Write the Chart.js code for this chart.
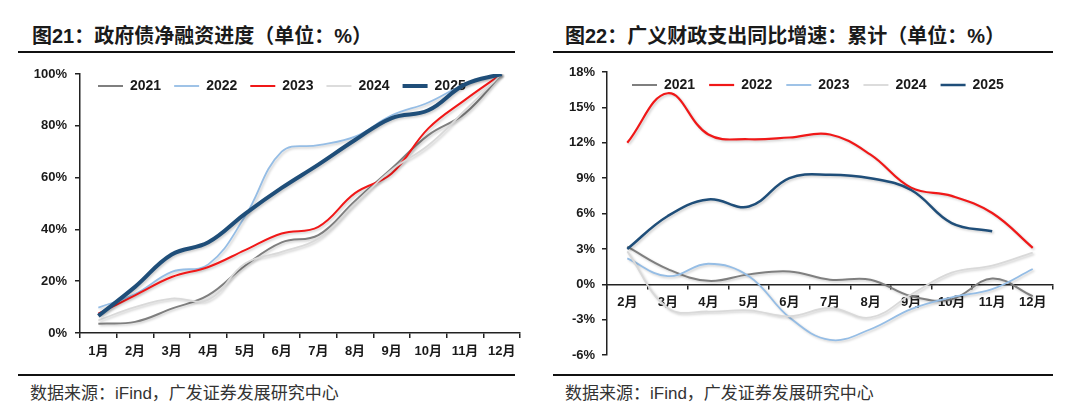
<!DOCTYPE html>
<html lang="zh">
<head>
	<meta charset="UTF-8">
	<title>政府债净融资进度 / 广义财政支出同比增速</title>
	<script src="https://cdn.jsdelivr.net/npm/chart.js"></script>
	<style>
		body {
			margin: 0;
			padding: 0;
			background-color: #fff;
			font-family: "Liberation Sans", "Noto Sans CJK SC", sans-serif;
		}
		.page {
			position: relative;
			width: 1080px;
			height: 416px;
			overflow: hidden;
		}
		.title {
			position: absolute;
			font-size: 20px;
			line-height: 20px;
			font-weight: bold;
			color: #1a1a1a;
			white-space: nowrap;
		}
		.rule {
			position: absolute;
			height: 2px;
			background-color: #111;
		}
		.source {
			position: absolute;
			font-size: 17px;
			line-height: 17px;
			color: #333;
			white-space: nowrap;
		}
		.chart-box {
			position: absolute;
		}
	</style>
</head>
<body>
<div class="page">
	<!-- left panel -->
	<div class="title" style="left:32px; top:26px;">图21：政府债净融资进度（单位：%）</div>
	<div class="rule" style="left:18px; top:51px; width:497px;"></div>
	<div class="chart-box" style="left:18px; top:56px; width:512px; height:316px;">
		<canvas id="debtChart"></canvas>
	</div>
	<div class="rule" style="left:18px; top:374px; width:497px;"></div>
	<div class="source" style="left:30px; top:385px;">数据来源：iFind，广发证券发展研究中心</div>

	<!-- right panel -->
	<div class="title" style="left:565px; top:26px;">图22：广义财政支出同比增速：累计（单位：%）</div>
	<div class="rule" style="left:553px; top:51px; width:500px;"></div>
	<div class="chart-box" style="left:548px; top:54px; width:515px; height:316px;">
		<canvas id="spendChart"></canvas>
	</div>
	<div class="rule" style="left:553px; top:374px; width:500px;"></div>
	<div class="source" style="left:565px; top:385px;">数据来源：iFind，广发证券发展研究中心</div>
</div>

<script>
	// Figure 21: government bond net financing progress (%)
	const debtMonths = ['1月', '2月', '3月', '4月', '5月', '6月', '7月', '8月', '9月', '10月', '11月', '12月'];
	const debt2021 = [3.6, 4.3, 9.4, 14.6, 26, 35, 37.8, 51, 63.5, 76.4, 84.8, 100];
	const debt2022 = [9.8, 15, 23.6, 26.5, 45, 70, 72.5, 75.8, 84, 89, 96, 100];
	const debt2023 = [7.5, 14.5, 21.6, 25.5, 32, 38.4, 41, 54, 61.6, 79, 90, 100];
	const debt2024 = [4.9, 10, 13.3, 12.9, 26.8, 31.3, 36.5, 50, 63, 72.5, 86, 100];
	const debt2025 = [6.6, 17.8, 30.3, 35, 46, 56, 65, 74.5, 83, 86, 96, 100];

	// Figure 22: broad fiscal expenditure YoY, cumulative (%)
	const spendMonths = ['2月', '3月', '4月', '5月', '6月', '7月', '8月', '9月', '10月', '11月', '12月'];
	const spend2021 = [3.2, 1.3, 0.3, 0.85, 1.1, 0.4, 0.4, -1.0, -1.25, 0.5, -1.0];
	const spend2022 = [12, 16.2, 12.7, 12.3, 12.45, 12.7, 11, 8.2, 7.5, 6.05, 3.1];
	const spend2023 = [2.2, 0.7, 1.75, 0.7, -2.8, -4.7, -3.8, -2.1, -1.1, -0.4, 1.3];
	const spend2024 = [2.8, -2.0, -2.3, -2.2, -2.7, -2.0, -2.8, -0.85, 1.0, 1.6, 2.7];
	const spend2025 = [3.0, 5.8, 7.2, 6.6, 9.0, 9.3, 9.0, 8.0, 5.2, 4.5, null];

	const yearLabels = ['2021', '2022', '2023', '2024', '2025'];

	const GRAY = '#7f7f7f';
	const LIGHT_BLUE = '#95bde5';
	const RED = '#f01818';
	const LIGHT_GRAY = '#d9d9d9';
	const NAVY = '#1f4e79';
	const AXIS = '#222';

	Chart.defaults.font.family = "'Liberation Sans', 'Noto Sans CJK SC', sans-serif";
	Chart.defaults.color = '#1a1a1a';

	// move the legend inside the plot area, like the Excel original
	// (legend is clipped to its own box in v4, so give it room again)
	const legendInside = {
		id: 'legendInside',
		afterLayout(chart, args, opts) {
			const lg = chart.legend;
			const area = chart.chartArea;
			lg.left = area.left + opts.dx;
			lg.right = area.right;
			lg.top = area.top + opts.dy;
			lg.bottom = lg.top + 34;
		}
	};

	// soft drop shadow under the lines
	const lineShadow = {
		id: 'lineShadow',
		beforeDatasetDraw(chart) {
			const c = chart.ctx;
			c.save();
			c.shadowColor = 'rgba(0,0,0,0.2)';
			c.shadowBlur = 2.5;
			c.shadowOffsetX = 1.5;
			c.shadowOffsetY = 1.5;
		},
		afterDatasetDraw(chart) {
			chart.ctx.restore();
		}
	};

	// order: later years drawn on top
	const makeSet = (label, data, color, width, order) => ({
		label,
		data,
		borderColor: color,
		backgroundColor: color,
		borderWidth: width,
		pointRadius: 0,
		pointHoverRadius: 0,
		tension: 0.4,
		fill: false,
		order
	});

	const tickFont = { size: 13, weight: 'bold' };

	const legendOpts = (padding) => ({
		position: 'top',
		align: 'start',
		maxHeight: 1,
		labels: {
			usePointStyle: true,
			pointStyle: 'line',
			pointStyleWidth: 25,
			padding,
			color: '#1a1a1a',
			font: { size: 14, weight: 'bold' },
			sort: (a, b) => a.datasetIndex - b.datasetIndex
		}
	});

	const debtChart = new Chart(document.getElementById('debtChart').getContext('2d'), {
		type: 'line',
		data: {
			labels: debtMonths,
			datasets: [
				makeSet(yearLabels[0], debt2021, GRAY, 2, 5),
				makeSet(yearLabels[1], debt2022, LIGHT_BLUE, 1.8, 4),
				makeSet(yearLabels[2], debt2023, RED, 2, 3),
				makeSet(yearLabels[3], debt2024, LIGHT_GRAY, 1.8, 2),
				makeSet(yearLabels[4], debt2025, NAVY, 4, 1)
			]
		},
		options: {
			responsive: true,
			maintainAspectRatio: false,
			animation: false,
			layout: { padding: { top: 17, right: 10, bottom: 0, left: 0 } },
			plugins: {
				legend: legendOpts(13),
				legendInside: { dx: 5, dy: -8 },
				tooltip: { enabled: false }
			},
			scales: {
				x: {
					offset: true,
					grid: { offset: true, drawOnChartArea: false, drawTicks: true, tickLength: 5, color: AXIS, lineWidth: 1.5 },
					border: { display: true, color: AXIS, width: 1.5 },
					ticks: { font: tickFont, color: '#1a1a1a', padding: 6, maxRotation: 0, autoSkip: false },
					afterFit(scale) { scale.height = 39; }
				},
				y: {
					min: 0,
					max: 100,
					grid: { drawOnChartArea: false, drawTicks: true, tickLength: 5, color: AXIS, lineWidth: 1.5 },
					border: { display: true, color: AXIS, width: 1.5 },
					ticks: { stepSize: 20, font: tickFont, color: '#1a1a1a', padding: 8, callback: v => v + '%' },
					afterFit(scale) { scale.width = 62; }
				}
			}
		},
		plugins: [legendInside, lineShadow]
	});

	const spendChart = new Chart(document.getElementById('spendChart').getContext('2d'), {
		type: 'line',
		data: {
			labels: spendMonths,
			datasets: [
				makeSet(yearLabels[0], spend2021, GRAY, 2, 5),
				makeSet(yearLabels[1], spend2022, RED, 2.2, 4),
				makeSet(yearLabels[2], spend2023, LIGHT_BLUE, 1.8, 3),
				makeSet(yearLabels[3], spend2024, LIGHT_GRAY, 1.8, 2),
				makeSet(yearLabels[4], spend2025, NAVY, 2.5, 1)
			]
		},
		options: {
			responsive: true,
			maintainAspectRatio: false,
			animation: false,
			layout: { padding: { top: 17, right: 10, bottom: 14, left: 0 } },
			plugins: {
				legend: legendOpts(14),
				legendInside: { dx: 11, dy: -8 },
				tooltip: { enabled: false }
			},
			scales: {
				x: {
					position: { y: 0 },
					offset: true,
					grid: { offset: true, drawOnChartArea: false, drawTicks: true, tickLength: 4, color: AXIS, lineWidth: 1.5 },
					border: { display: true, color: AXIS, width: 1.5 },
					ticks: { font: tickFont, color: '#1a1a1a', padding: 6, maxRotation: 0, autoSkip: false }
				},
				y: {
					min: -6,
					max: 18,
					grid: { drawOnChartArea: false, drawTicks: true, tickLength: 5, color: AXIS, lineWidth: 1.5 },
					border: { display: true, color: AXIS, width: 1.5 },
					ticks: { stepSize: 3, font: tickFont, color: '#1a1a1a', padding: 7, callback: v => v + '%' },
					afterFit(scale) { scale.width = 59; }
				}
			}
		},
		plugins: [legendInside, lineShadow]
	});
</script>
</body>
</html>
